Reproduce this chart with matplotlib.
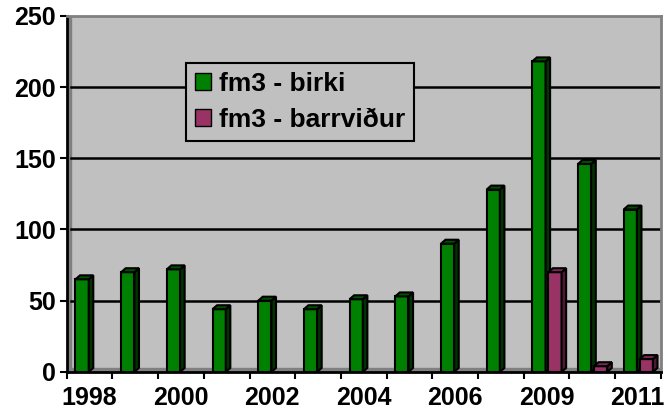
import numpy as np
import matplotlib.pyplot as plt
from matplotlib.patches import Polygon, Patch

plt.rcParams['font.family'] = ['Liberation Sans', 'DejaVu Sans']
plt.rcParams['font.weight'] = 'bold'

# data (2008 not shown)
years = [1998, 1999, 2000, 2001, 2002, 2003, 2004, 2005, 2006, 2007, 2009, 2010, 2011]
birki = [65, 70, 72, 44, 50, 44, 51, 53, 90, 128, 218, 146, 114]
barrvidur = [np.nan] * 10 + [70, 4, 9]

green = "#008000"
purple = "#993366"

fig = plt.figure(figsize=(6.68, 4.16), dpi=100)
ax = fig.add_axes([0.100, 0.106, 0.889, 0.856])
ax.set_facecolor("#C0C0C0")

x = np.arange(len(years))
w = 0.29
dx, dy = 0.1, 2.8  # fake 3d depth


def bars3d(xs, vals, color, side, top, z):
    ax.bar(xs, vals, width=w, color=color, edgecolor="black", linewidth=1.5, zorder=z)
    for xi, v in zip(xs, vals):
        if np.isnan(v):
            continue
        r = xi + w / 2
        l = xi - w / 2
        ax.add_patch(Polygon([(r, 0), (r + dx, dy), (r + dx, v + dy), (r, v)],
                             closed=True, facecolor=side, edgecolor="black", lw=1.5, zorder=z))
        ax.add_patch(Polygon([(l, v), (l + dx, v + dy), (r + dx, v + dy), (r, v)],
                             closed=True, facecolor=top, edgecolor="black", lw=1.5, zorder=z))


bars3d(x - 0.165, birki, green, "#003300", "#005000", 3)
bars3d(x + 0.186, np.array(barrvidur, dtype=float), purple, "#4d1a33", "#7a2952", 4)

# back wall / floor hints
ax.axhspan(0, dy, color="#808080", zorder=1)
ax.axvspan(-0.5, -0.5 + dx, color="#808080", zorder=1)
for g in [50, 100, 150, 200]:
    ax.plot([-0.5 + dx, 12.5], [g, g], color="black", lw=1.8, zorder=2)

ax.set_xlim(-0.5, 12.5)
ax.set_ylim(0, 250)
ax.set_yticks([0, 50, 100, 150, 200, 250])
ax.set_xticks(x[::2])
ax.set_xticklabels([str(y) for y in years[::2]])
ax.set_xticks(np.arange(-0.5, 13, 1), minor=True)
ax.tick_params(axis="x", which="major", length=0, pad=10, labelsize=18)
ax.tick_params(axis="x", which="minor", length=5, width=1.5, direction="out")
ax.tick_params(axis="y", length=5, width=1.5, pad=3, labelsize=18)

for s in ["left", "bottom"]:
    ax.spines[s].set_color("black")
    ax.spines[s].set_linewidth(2)
for s in ["top", "right"]:
    ax.spines[s].set_color("#808080")
    ax.spines[s].set_linewidth(2)

handles = [Patch(facecolor=green, edgecolor="black", label="fm3 - birki"),
           Patch(facecolor=purple, edgecolor="black", label="fm3 - barrviður")]
leg = ax.legend(handles=handles, loc="upper left", bbox_to_anchor=(0.2, 0.868),
                fontsize=19, frameon=True, fancybox=False, facecolor="#C0C0C0",
                edgecolor="black", framealpha=1, handlelength=0.6, handleheight=0.6,
                handletextpad=0.3, borderpad=0.35, labelspacing=0.45, borderaxespad=0)
leg.get_frame().set_linewidth(1.5)
leg.set_zorder(10)

fig.savefig("out.png", dpi=100)
